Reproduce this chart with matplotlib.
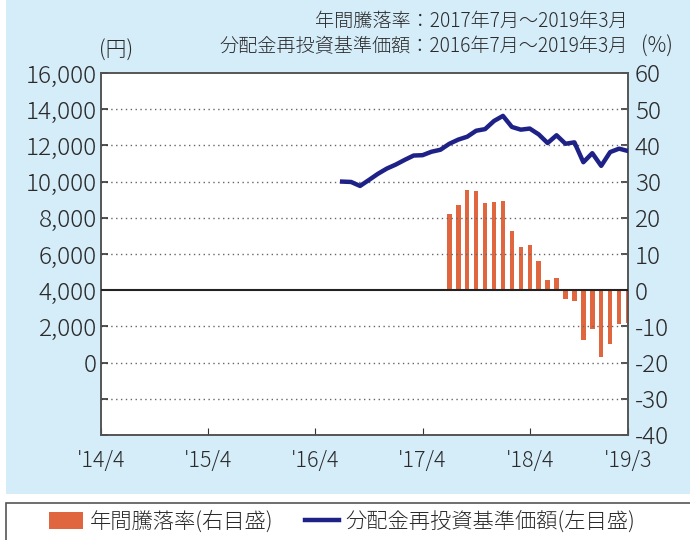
import matplotlib
matplotlib.use("Agg")
import matplotlib.pyplot as plt
from matplotlib.patches import Rectangle, Patch
from matplotlib.lines import Line2D
import pandas as pd

plt.rcParams['font.family'] = ['Noto Sans CJK JP', 'DejaVu Sans']

# ---- data ----
start_month = "2014-04"
end_month = "2019-03"
nav_start = "2016-07"
nav_values = [10000, 9980, 9760, 10090, 10430, 10720, 10940, 11200, 11440, 11460,
              11650, 11760, 12090, 12320, 12480, 12810, 12900, 13350, 13630, 13020,
              12870, 12930, 12610, 12130, 12560, 12090, 12170, 11070, 11570, 10870,
              11630, 11820, 11690]
ret_start = "2017-07"
ret_values = [21.0, 23.5, 27.6, 27.3, 24.0, 24.3, 24.6, 16.3, 11.9, 12.4, 8.0,
              2.8, 3.3, -2.5, -3.0, -13.8, -10.8, -18.5, -14.9, -9.4, -9.1]
xtick_months = ["2014-04", "2015-04", "2016-04", "2017-04", "2018-04", "2019-03"]
xtick_labels = ["'14/4", "'15/4", "'16/4", "'17/4", "'18/4", "'19/3"]
left_ticks = [-4000, -2000, 0, 2000, 4000, 6000, 8000, 10000, 12000, 14000, 16000]
left_labels = ["", "", "0", "2,000", "4,000", "6,000", "8,000", "10,000", "12,000", "14,000", "16,000"]
right_ticks = [-40, -30, -20, -10, 0, 10, 20, 30, 40, 50, 60]
title1 = "年間騰落率：2017年7月～2019年3月"
title2 = "分配金再投資基準価額：2016年7月～2019年3月"
legend_bar = "年間騰落率(右目盛)"
legend_line = "分配金再投資基準価額(左目盛)"

P0 = pd.Period(start_month, "M")
def midx(s):
    return (pd.Period(s, "M") - P0).n

nav_x = [midx(nav_start) + i for i in range(len(nav_values))]
ret_x = [midx(ret_start) + i for i in range(len(ret_values))]
xt = [midx(m) for m in xtick_months]
xmax = midx(end_month)

# ---- style ----
NAVY = "#1e2287"
ORANGE = "#e06640"
PANEL = "#d5ecf9"
TXT = "#2a2a2a"
SPINE = "#555555"

fig = plt.figure(figsize=(6.9, 5.4), dpi=100)
fig.patches.append(Rectangle((6/690, 1-494/540), 1-6/690, 494/540, transform=fig.transFigure,
                             facecolor=PANEL, edgecolor="none", zorder=-10))
fig.patches.append(Rectangle((6/690, -0.05), 1.0, 0.05+1-503/540, transform=fig.transFigure,
                             facecolor="white", edgecolor="#555555", lw=1.2, zorder=-10))

ax = fig.add_axes([101/690, 1-435/540, 527/690, 362/540])
ax2 = ax.twinx()

for y in left_ticks[1:-1]:
    if y == 4000:
        continue
    ax.axhline(y, color="#666666", lw=1.0, ls=(0, (1, 2.5)), zorder=1)
ax.axhline(4000, color="#222222", lw=1.5, zorder=3)

ax2.bar(ret_x, ret_values, width=0.5, color=ORANGE, zorder=2)
ax.plot(nav_x, nav_values, color=NAVY, lw=3.2, zorder=4, solid_joinstyle="round")

ax.set_zorder(2)
ax.patch.set_visible(False)
ax2.set_zorder(1)
ax2.patch.set_visible(True)
ax2.patch.set_facecolor("white")

ax.set_xlim(0, xmax)
ax.set_ylim(-4000, 16000)
ax2.set_ylim(-40, 60)

ax.set_yticks(left_ticks)
ax.set_yticklabels(left_labels)
ax2.set_yticks(right_ticks)
ax2.set_yticklabels([str(t) for t in right_ticks])
ax.set_xticks(xt)
ax.set_xticklabels(xtick_labels)

ax.tick_params(axis="y", direction="in", length=5, width=1.2, color="#333333",
               labelsize=17.5, labelcolor=TXT, pad=3)
ax2.tick_params(axis="y", direction="in", length=5, width=1.2, color="#333333",
                labelsize=17.5, labelcolor=TXT, pad=5)
ax.tick_params(axis="x", direction="in", length=5, width=0.8, color="#333333",
               labelsize=15.5, labelcolor=TXT, pad=11)
ax2.tick_params(axis="x", length=0)

for lab in ax.get_yticklabels() + ax2.get_yticklabels() + ax.get_xticklabels():
    lab.set_fontweight("light")

for a in (ax, ax2):
    for s in a.spines.values():
        s.set_color(SPINE)
        s.set_linewidth(1.2)

fig.text(628/690, 1-21/540, title1, ha="right", va="center", fontsize=13.8, color=TXT, fontweight="light")
fig.text(628/690, 1-47/540, title2, ha="right", va="center", fontsize=13.8, color=TXT, fontweight="light")
fig.text(99/690, 1-51/540, "(円)", ha="left", va="center", fontsize=15, color=TXT, fontweight="light")
fig.text(657/690, 1-47/540, "(%)", ha="center", va="center", fontsize=15, color=TXT, fontweight="light")

handles = [Patch(facecolor=ORANGE, edgecolor="none"),
           Line2D([0], [0], color=NAVY, lw=3.2)]
leg = fig.legend(handles, [legend_bar, legend_line], loc="center", bbox_to_anchor=(342/690, 1-522/540),
                 ncol=2, frameon=False, fontsize=15.3, handlelength=1.6, handleheight=0.85,
                 columnspacing=1.5, handletextpad=0.3, labelcolor=TXT)
for t in leg.get_texts():
    t.set_fontweight("light")

fig.savefig("out.png", dpi=100)
